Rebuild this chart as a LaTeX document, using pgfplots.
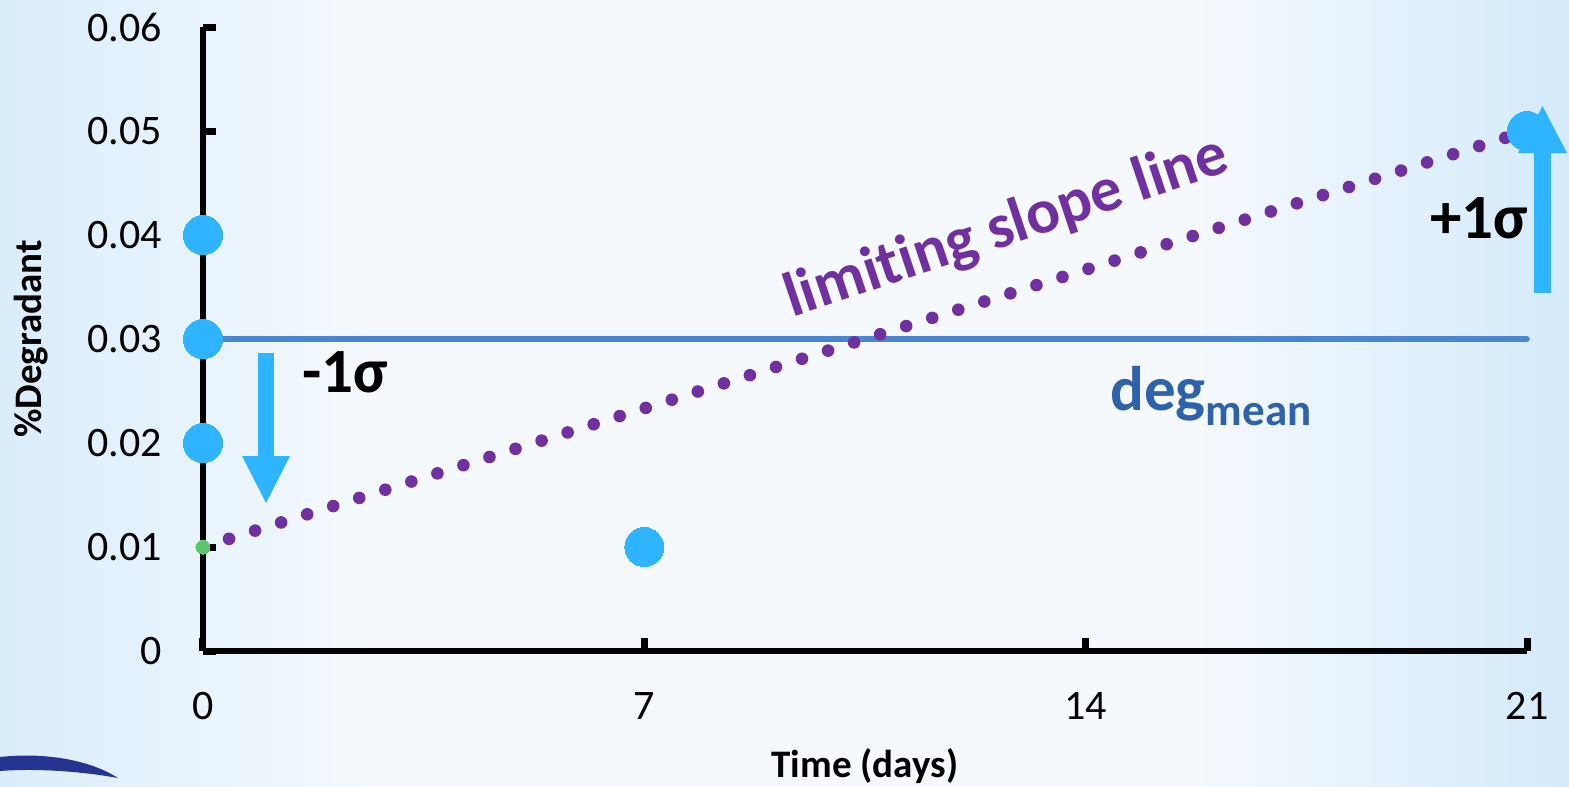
\documentclass[border=0pt]{standalone}
\usepackage{pgfplots}
\pgfplotsset{compat=1.18}
\usepackage{fontspec}
\setmainfont{Carlito}[Ligatures=NoCommon]
\usetikzlibrary{arrows.meta}

\definecolor{ptblue}{RGB}{47,181,255}
\definecolor{meanblue}{RGB}{74,134,208}
\definecolor{degblue}{RGB}{46,99,172}
\definecolor{slopepurple}{RGB}{112,48,160}
\definecolor{zerogreen}{RGB}{90,198,110}
\definecolor{bgleft}{RGB}{218,237,251}
\definecolor{bgright}{RGB}{212,234,251}
\definecolor{bgmid}{RGB}{245,249,253}
\definecolor{swoosh}{RGB}{38,52,145}

% the path is fitted to the central 25bp--75bp band of the shading
\pgfdeclarehorizontalshading{slidebg}{100bp}{%
  color(0bp)=(bgleft); color(25bp)=(bgleft); color(37bp)=(bgmid);
  color(63bp)=(bgmid); color(75bp)=(bgright); color(100bp)=(bgright)}

\begin{document}
\begin{tikzpicture}
% slide background, laid out in pixel units from the top-left corner
\begin{scope}[shift={(-101.5pt,325.5pt)}, x=0.5pt, y=-0.5pt]
  \shade[shading=slidebg] (0,0) rectangle (1569,787);
  \fill[swoosh] (0,757) .. controls (45,752) and (90,760) .. (118,778)
                .. controls (85,772) and (40,768) .. (0,771) -- cycle;
\end{scope}

\begin{axis}[
  anchor=origin, at={(0,0)},
  scale only axis, width=662pt, height=312pt,
  xmin=0, xmax=21, ymin=0, ymax=0.06,
  clip=false,
  axis lines=left,
  axis line style={-, line width=3.4pt, black},
  scaled y ticks=false,
  xtick={0,7,14,21}, xticklabels={0,7,14,21},
  ytick={0,0.01,0.02,0.03,0.04,0.05,0.06},
  yticklabels={0,0.01,0.02,0.03,0.04,0.05,0.06},
  /pgf/number format/assume math mode=true,
  tick align=inside, major tick length=6.5pt,
  tick style={line width=3.5pt, black},
  minor tick num=0,
  ticklabel style={font=\fontsize{21}{25}\selectfont, inner sep=0pt},
  xticklabel style={anchor=north, yshift=-20.5pt},
  yticklabel style={anchor=east, xshift=-20.5pt},
  xlabel={Time (days)}, ylabel={\%Degradant},
  label style={font=\bfseries\fontsize{19.5}{23}\selectfont},
  xlabel style={at={(axis description cs:0.5,-0.202)}, anchor=base},
  ylabel style={at={(axis description cs:-0.13,0.5)}, anchor=center},
]
% mean degradant level
\addplot[meanblue, line width=2.8pt, line cap=round, no marks]
  coordinates {(0,0.03) (21,0.03)};
% limiting slope line
\addplot[slopepurple, line width=6.3pt, line cap=round,
         dash pattern=on 0pt off 13.65pt, no marks]
  coordinates {(0,0.01) (21,0.05)};
% measured points
\addplot[only marks, mark=*, mark size=9.75pt,
         mark options={solid, fill=ptblue, draw=ptblue, line width=0pt}]
  coordinates {(0,0.04) (0,0.03) (0,0.02) (7,0.01) (21,0.05)};
% intercept of the limiting slope
\addplot[only marks, mark=*, mark size=3.5pt,
         mark options={solid, fill=zerogreen, draw=zerogreen, line width=0pt}]
  coordinates {(0,0.01)};

% sigma shifts
\draw[ptblue, line width=8pt, -{Triangle[width=24pt, length=23.5pt, line width=0pt]}]
  (axis cs:1.0,0.02865) -- (axis cs:1.0,0.01423);
\draw[ptblue, line width=8.5pt, -{Triangle[width=24.5pt, length=23.5pt, line width=0pt]}]
  (axis cs:21.246,0.03442) -- (axis cs:21.246,0.0524);

\node[anchor=base west, inner sep=0pt, font=\bfseries\fontsize{31.5}{36}\selectfont]
  at (axis cs:1.570,0.02481) {-1σ};
\node[anchor=base west, inner sep=0pt, font=\bfseries\fontsize{31.5}{36}\selectfont]
  at (axis cs:19.461,0.03971) {+1σ};
\node[anchor=base west, inner sep=0pt, text=degblue, font=\bfseries\fontsize{31.5}{36}\selectfont]
  at (axis cs:14.386,0.02317) {deg\raisebox{-7.5pt}{\fontsize{22.5}{26}\selectfont mean}};
\node[anchor=base, rotate=18.5, inner sep=0pt, text=slopepurple, font=\bfseries\fontsize{31.5}{36}\selectfont]
  at (axis cs:12.83,0.03913) {limiting slope line};
\end{axis}

\pgfresetboundingbox
\path[use as bounding box] (-101.5pt,-68pt) rectangle (683pt,325.5pt);
\end{tikzpicture}
\end{document}
